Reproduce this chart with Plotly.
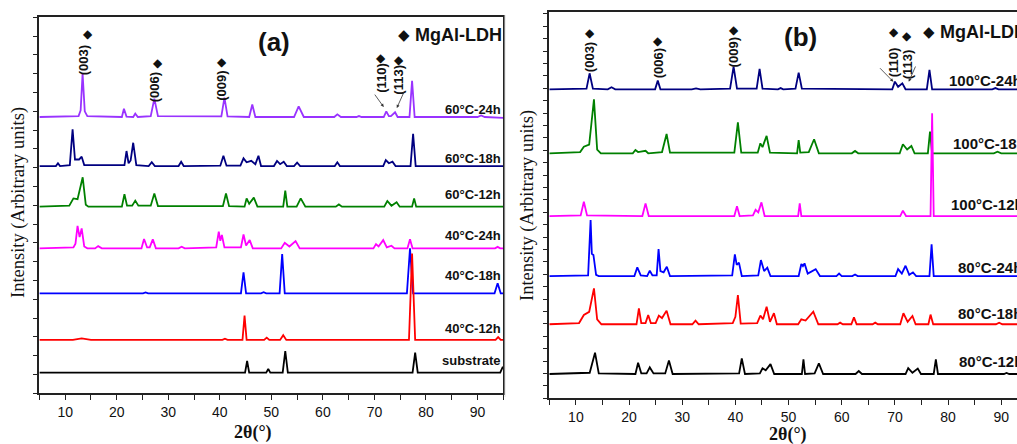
import plotly.graph_objects as go

W, H = 1017, 444

# ---------------- panel (a): 2theta / intensity points (above each baseline) ----------------
a_labels = ["60°C-24h", "60°C-18h", "60°C-12h", "40°C-24h", "40°C-18h", "40°C-12h", "substrate"]
a_colors = ["#9933FF", "#000080", "#008000", "#FF00FF", "#0000FF", "#FF0000", "#000000"]
a_offsets = [14.70, 12.09, 9.93, 7.71, 5.32, 2.84, 1.10]

a_60_24h = [(5, 0), (12.6, 0.05), (13.0, 0.35), (13.38, 2.31), (13.8, 0.3), (14.3, 0.05),
            (21.0, 0), (21.4, 0.44), (21.9, 0.02), (23.2, 0), (23.6, 0.18), (24.1, 0),
            (26.6, 0.05), (27.3, 0.98), (28.0, 0.05),
            (40.3, 0.03), (40.9, 1.03), (41.5, 0.03),
            (45.7, 0), (46.3, 0.66), (46.9, 0),
            (54.4, 0), (55.3, 0.57), (56.3, 0),
            (62.2, 0), (62.8, 0.14), (63.5, 0),
            (66.5, 0), (67.0, 0.05), (67.5, 0),
            (71.8, 0), (72.3, 0.3), (72.8, 0.05), (73.2, 0.05), (74.0, 0.25), (74.5, 0),
            (76.8, 0), (77.3, 1.93), (77.8, 0),
            (90.0, 0), (90.7, 0.08), (91.4, 0), (95, -0.05)]

a_60_18h = [(5, 0), (8.2, 0), (8.6, 0.15), (9.0, 0),
            (10.9, 0.05), (11.44, 1.95), (11.9, 0.35), (12.7, 0.35), (13.2, 0.5), (13.7, 0.05),
            (21.5, 0.05), (21.9, 0.8), (22.3, 0.15), (22.7, 0.3), (23.2, 1.24), (23.8, 0.05),
            (26.2, 0), (26.8, 0.2), (27.4, 0),
            (32.0, 0), (32.5, 0.23), (33.0, 0),
            (40.1, 0.02), (40.7, 0.55), (41.3, 0.02),
            (44.0, 0.02), (44.6, 0.41), (45.2, 0.2), (46.1, 0.28), (46.9, 0.1), (47.5, 0.55), (48.0, 0),
            (50.5, 0), (51.1, 0.27), (51.7, 0.1), (52.4, 0.23), (53.0, 0), (54.4, 0), (55.0, 0.18), (55.6, 0),
            (62.3, 0), (62.8, 0.2), (63.3, 0),
            (71.7, 0), (72.2, 0.32), (72.8, 0.15), (73.5, 0.23), (74.1, 0),
            (77.0, 0), (77.5, 1.71), (78.0, 0), (95, 0)]

a_60_12h = [(5, 0), (10.8, 0.05), (11.6, 0.44), (12.4, 0.4), (13.4, 1.56), (14.0, 0.1), (14.5, 0),
            (21.0, 0), (21.5, 0.66), (22.0, 0.05), (23.0, 0.05), (23.6, 0.32), (24.2, 0.05),
            (26.6, 0.05), (27.3, 0.7), (28.0, 0.03),
            (40.6, 0.03), (41.2, 0.7), (41.8, 0.03),
            (44.8, 0), (45.2, 0.44), (45.7, 0.15), (46.6, 0.48), (47.3, 0),
            (52.3, 0), (52.7, 0.85), (53.1, 0),
            (54.9, 0), (55.7, 0.44), (56.6, 0),
            (62.5, 0), (63.1, 0.12), (63.7, 0),
            (71.9, 0), (72.5, 0.3), (73.3, 0.05), (74.3, 0.23), (74.9, 0),
            (77.3, 0), (77.7, 0.44), (78.1, 0), (95, 0)]

a_40_24h = [(5, 0), (11.6, 0.05), (12.0, 0.25), (12.4, 1.2), (12.8, 0.6), (13.2, 1.06), (13.7, 0.1), (14.3, 0),
            (15.8, 0), (16.4, 0.12), (17.1, 0),
            (24.8, 0), (25.3, 0.5), (25.9, 0.05), (26.4, 0.05), (27.0, 0.48), (27.6, 0),
            (32.0, 0), (32.6, 0.09), (33.2, 0),
            (39.3, 0.05), (39.8, 0.89), (40.1, 0.4), (40.4, 0.71), (40.9, 0.05),
            (44.1, 0.05), (44.6, 0.74), (45.1, 0.15), (45.8, 0.44), (46.4, 0),
            (51.9, 0), (52.6, 0.3), (53.5, 0.1), (54.7, 0.39), (55.5, 0),
            (69.8, 0), (70.3, 0.23), (70.8, 0.1), (71.7, 0.44), (72.4, 0.05), (73.3, 0.14), (73.9, 0),
            (76.4, 0), (76.9, 0.48), (77.4, 0),
            (93.4, 0), (93.9, 0.08), (94.4, 0), (95, 0)]

a_40_18h = [(5, 0), (25.1, 0), (25.6, 0.05), (26.1, 0),
            (44.1, 0), (44.6, 1.12), (45.1, 0),
            (48.0, 0), (48.5, 0.06), (49.0, 0),
            (51.6, 0), (52.1, 2.09), (52.6, 0),
            (76.3, 0), (76.9, 2.39), (77.5, 0),
            (93.3, 0), (93.9, 0.53), (94.5, 0), (95, 0)]

a_40_12h = [(5, 0), (11.5, 0), (13.2, 0.08), (15.0, 0),
            (40.5, 0), (41.0, 0.06), (41.5, 0),
            (44.4, 0), (44.8, 1.29), (45.2, 0),
            (48.6, 0), (49.1, 0.12), (49.6, 0),
            (51.7, 0), (52.3, 0.25), (52.9, 0),
            (76.7, 0), (77.3, 4.6), (77.9, 0),
            (93.5, 0), (94.0, 0.15), (94.5, 0), (95, 0)]

a_substrate = [(5, 0), (44.9, 0), (45.3, 0.62), (45.7, 0),
               (49.0, 0), (49.4, 0.19), (49.8, 0),
               (52.2, 0), (52.7, 1.15), (53.2, 0),
               (77.4, 0), (77.9, 1.06), (78.4, 0),
               (94.4, 0), (94.9, 0.3), (95, 0.25)]

a_series = [a_60_24h, a_60_18h, a_60_12h, a_40_24h, a_40_18h, a_40_12h, a_substrate]

# ---------------- panel (b) ----------------
b_labels = ["100°C-24h", "100°C-18h", "100°C-12h", "80°C-24h", "80°C-18h", "80°C-12h"]
b_colors = ["#000080", "#008000", "#FF00FF", "#0000FF", "#FF0000", "#000000"]
b_offsets = [24.92, 19.76, 14.70, 9.86, 5.97, 1.96]

b_100_24h = [(5, 0), (12.0, 0.05), (12.58, 1.29), (13.2, 0.05),
             (16.0, 0), (16.7, 0.16), (17.4, 0),
             (24.9, 0), (25.4, 0.7), (25.9, 0),
             (31.8, 0), (32.6, 0.08), (33.4, 0),
             (39.0, 0.05), (39.66, 1.83), (40.3, 0.05),
             (44.0, 0.05), (44.55, 1.64), (45.1, 0.05),
             (48.0, 0), (48.5, 0.1), (49.0, 0),
             (51.3, 0.05), (51.9, 1.34), (52.5, 0.05),
             (69.5, 0), (70.0, 0.62), (70.6, 0.2), (71.4, 0.48), (72.0, 0),
             (76.0, 0), (76.5, 1.56), (77.0, 0),
             (88.3, 0), (88.9, 0.1), (89.5, 0), (95, 0)]

b_100_18h = [(5, 0), (10.8, 0.1), (11.5, 0.53), (12.5, 0.7), (13.4, 4.35), (14.0, 0.3), (14.7, 0),
             (20.7, 0), (21.2, 0.27), (21.7, 0.1), (23.1, 0.2), (23.6, 0),
             (26.2, 0.1), (27.06, 1.56), (27.7, 0.05),
             (39.8, 0.05), (40.47, 2.5), (41.1, 0.05),
             (44.2, 0.05), (44.7, 0.8), (45.1, 0.5), (45.87, 1.4), (46.5, 0.05),
             (51.6, 0), (51.9, 1.07), (52.2, 0.05), (53.8, 0.1), (54.8, 1.13), (55.7, 0),
             (61.9, 0), (62.5, 0.19), (63.1, 0),
             (70.9, 0), (71.5, 0.73), (72.3, 0.3), (73.1, 0.59), (73.7, 0),
             (76.2, 0), (76.6, 1.74), (77.0, 0),
             (88.6, 0), (89.3, 0.13), (90.0, 0), (95, 0)]

b_100_12h = [(5, 0), (10.9, 0.05), (11.5, 1.15), (12.1, 0.05),
             (22.5, 0), (23.1, 1.02), (23.7, 0),
             (39.8, 0), (40.3, 0.8), (40.8, 0),
             (43.3, 0.05), (43.8, 0.5), (44.3, 0.3), (44.9, 1.1), (45.5, 0),
             (51.8, 0), (52.1, 1.02), (52.4, 0),
             (71.0, 0), (71.5, 0.43), (72.1, 0),
             (76.7, 0), (77.0, 8.28), (77.3, 0), (95, 0)]

b_80_24h = [(5, 0), (12.3, 0.05), (12.77, 4.52), (13.0, 1.8), (13.3, 1.7), (13.8, 0.1), (14.3, 0),
            (21.0, 0), (21.55, 0.7), (22.2, 0.05), (23.4, 0), (23.9, 0.43), (24.4, 0.05),
            (25.2, 0.05), (25.55, 2.18), (25.9, 0.4), (26.5, 0.3), (27.1, 0.75), (27.7, 0),
            (39.4, 0.05), (39.9, 1.75), (40.25, 0.9), (40.67, 1.08), (41.2, 0),
            (44.3, 0.05), (44.8, 1.29), (45.4, 0.4), (46.0, 0.67), (46.6, 0),
            (51.9, 0), (52.4, 0.97), (52.7, 0.8), (53.0, 1.02), (53.6, 0.2), (55.1, 0.56), (55.9, 0),
            (59.0, 0), (59.5, 0.2), (60.0, 0), (62.0, 0), (62.5, 0.13), (63.0, 0),
            (70.1, 0), (70.6, 0.56), (71.3, 0.2), (72.0, 0.83), (72.7, 0.1), (73.4, 0.3), (74.0, 0),
            (76.5, 0), (76.9, 2.55), (77.3, 0), (95, 0)]

b_80_18h = [(5, 0), (10.6, 0.1), (11.5, 0.75), (12.5, 1.0), (13.4, 2.9), (14.0, 0.4), (14.8, 0),
            (21.4, 0), (21.85, 1.29), (22.3, 0.1), (23.1, 0.1), (23.6, 0.75), (24.1, 0.1),
            (25.0, 0.1), (25.6, 0.7), (26.2, 0.5), (27.06, 1.1), (27.8, 0),
            (31.9, 0), (32.5, 0.3), (33.1, 0),
            (39.5, 0.1), (40.0, 0.6), (40.47, 2.36), (41.0, 0.05),
            (44.1, 0.1), (44.7, 0.7), (45.2, 0.4), (45.87, 1.42), (46.5, 0.2), (47.25, 0.89), (47.8, 0),
            (51.8, 0), (52.4, 0.4), (53.2, 0.3), (54.65, 1.02), (55.6, 0),
            (59.2, 0), (59.7, 0.13), (60.2, 0),
            (61.8, 0), (62.3, 0.56), (62.8, 0),
            (65.8, 0), (66.3, 0.13), (66.8, 0),
            (71.0, 0), (71.6, 0.89), (72.4, 0.2), (73.3, 0.67), (73.9, 0),
            (76.3, 0), (76.7, 0.78), (77.2, 0),
            (89.0, 0), (89.6, 0.13), (90.2, 0), (95, 0)]

b_80_12h = [(5, 0), (12.6, 0.1), (13.6, 1.72), (14.3, 0.05),
            (21.2, 0), (21.7, 0.91), (22.3, 0.05), (23.3, 0.05), (23.9, 0.53), (24.6, 0.05),
            (26.8, 0.05), (27.5, 1.08), (28.2, 0),
            (40.7, 0.05), (41.2, 1.26), (41.8, 0),
            (44.6, 0.05), (45.1, 0.46), (45.7, 0.3), (46.6, 0.8), (47.3, 0),
            (52.5, 0), (52.8, 1.18), (53.1, 0),
            (54.9, 0.05), (55.7, 0.86), (56.5, 0),
            (62.6, 0), (63.2, 0.24), (63.8, 0),
            (72.0, 0), (72.5, 0.48), (73.3, 0.1), (74.3, 0.43), (74.9, 0),
            (77.3, 0), (77.7, 1.18), (78.1, 0),
            (90.5, 0), (91.0, 0.08), (91.5, 0), (95, 0)]

b_series = [b_100_24h, b_100_18h, b_100_12h, b_80_24h, b_80_18h, b_80_12h]

# Miller indices of the MgAl-LDH reflections: (label, 2theta, label y, diamond x, diamond y)
a_hkl = [("(003)", 13.5, 17.73, 14.4, 19.11), ("(006)", 27.26, 16.29, 28.0, 17.57),
         ("(009)", 40.4, 16.35, 40.5, 17.62), ("(110)", 71.2, 16.77, 71.2, 17.84),
         ("(113)", 74.67, 16.66, 74.67, 17.73)]
b_hkl = [("(003)", 12.58, 27.48, 12.58, 29.44), ("(006)", 25.5, 27.04, 25.5, 28.84),
         ("(009)", 39.72, 27.89, 39.72, 29.7), ("(110)", 69.8, 27.08, 69.8, 29.56),
         ("(113)", 72.33, 26.96, 72.33, 29.24)]

a_label_y = [15.12, 12.5, 10.6, 8.42, 6.29, 3.46, 1.72]
b_label_pos = [(79.85, 25.67), (80.47, 20.56), (80.15, 15.67), (81.4, 10.56), (81.55, 6.8), (81.7, 2.95)]

SANS = "Liberation Sans, Arial, sans-serif"
SERIF = "Liberation Serif, Times New Roman, serif"

fig = go.Figure()

for pts, off, col, name in zip(a_series, a_offsets, a_colors, a_labels):
    fig.add_trace(go.Scatter(x=[p[0] for p in pts], y=[p[1] + off for p in pts],
                             mode="lines", line=dict(color=col, width=1.8),
                             name=name, xaxis="x", yaxis="y", showlegend=False))
for pts, off, col, name in zip(b_series, b_offsets, b_colors, b_labels):
    fig.add_trace(go.Scatter(x=[p[0] for p in pts], y=[p[1] + off for p in pts],
                             mode="lines", line=dict(color=col, width=1.8),
                             name=name, xaxis="x2", yaxis="y2", showlegend=False))

ann = []
# curve labels
for name, y in zip(a_labels, a_label_y):
    ann.append(dict(x=94.9, y=y, xref="x", yref="y", text="<b>%s</b>" % name, showarrow=False,
                    xanchor="right", yanchor="middle", font=dict(family=SANS, size=13, color="#111")))
for name, (x, y) in zip(b_labels, b_label_pos):
    ann.append(dict(x=x, y=y, xref="x2", yref="y2", text="<b>%s</b>" % name, showarrow=False,
                    xanchor="left", yanchor="middle", font=dict(family=SANS, size=15, color="#111")))

# reflection indices with diamonds
for (lab, x, y, dx, dy), xr, yr in [(h, "x", "y") for h in a_hkl] + [(h, "x2", "y2") for h in b_hkl]:
    ann.append(dict(x=x, y=y, xref=xr, yref=yr, text="<b>%s</b>" % lab, textangle=-90, showarrow=False,
                    xanchor="center", yanchor="middle", font=dict(family=SANS, size=13, color="#111")))
    ann.append(dict(x=dx, y=dy, xref=xr, yref=yr, text="◆", showarrow=False,
                    xanchor="center", yanchor="middle", font=dict(family="DejaVu Sans", size=12, color="#111")))

# arrows pointing to (110) and (113)
for (tx, ty, hx, hy, xr, yr) in [(69.86, 15.97, 71.8, 15.23, "x", "y"), (75.9, 16.13, 74.34, 15.18, "x", "y"),
                                 (66.93, 26.74, 69.7, 25.53, "x2", "y2"), (74.0, 26.88, 72.6, 25.53, "x2", "y2")]:
    ann.append(dict(x=hx, y=hy, ax=tx, ay=ty, xref=xr, yref=yr, axref=xr, ayref=yr, text="",
                    showarrow=True, arrowhead=2, arrowsize=0.8, arrowwidth=0.8, arrowcolor="#333"))

# panel tags and legend marker
ann.append(dict(x=50.6, y=18.7, xref="x", yref="y", text="<b>(a)</b>", showarrow=False,
                xanchor="center", yanchor="middle", font=dict(family=SANS, size=26, color="#111")))
ann.append(dict(x=52.26, y=29.16, xref="x2", yref="y2", text="<b>(b)</b>", showarrow=False,
                xanchor="center", yanchor="middle", font=dict(family=SANS, size=26, color="#111")))
ann.append(dict(x=75.7, y=19.06, xref="x", yref="y", text="◆", showarrow=False,
                xanchor="center", yanchor="middle", font=dict(family="DejaVu Sans", size=15, color="#111")))
ann.append(dict(x=77.45, y=19.06, xref="x", yref="y", text="<b>MgAl-LDH</b>", showarrow=False,
                xanchor="left", yanchor="middle", font=dict(family=SANS, size=18, color="#111")))
ann.append(dict(x=76.34, y=29.56, xref="x2", yref="y2", text="◆", showarrow=False,
                xanchor="center", yanchor="middle", font=dict(family="DejaVu Sans", size=15, color="#111")))
ann.append(dict(x=78.03, y=29.56, xref="x2", yref="y2", text="<b>MgAl-LDH</b>", showarrow=False,
                xanchor="left", yanchor="middle", font=dict(family=SANS, size=18, color="#111")))

# axis titles
for xp, yp in [(18, 203), (528, 206)]:
    ann.append(dict(x=xp / W, y=1 - yp / H, xref="paper", yref="paper", text="Intensity (Arbitrary units)",
                    textangle=-90, showarrow=False, xanchor="center", yanchor="middle",
                    font=dict(family=SERIF, size=18.5, color="#111")))
for xp, yp in [(252.5, 432), (788, 434)]:
    ann.append(dict(x=xp / W, y=1 - yp / H, xref="paper", yref="paper", text="<b>2θ(°)</b>",
                    showarrow=False, xanchor="center", yanchor="middle",
                    font=dict(family=SERIF, size=18, color="#111")))

xcommon = dict(range=[5, 95], showline=True, linecolor="#222", linewidth=1.5, ticks="outside",
               tickvals=[10, 20, 30, 40, 50, 60, 70, 80, 90], ticklen=5, tickwidth=1.2, tickcolor="#222",
               minor=dict(tickvals=[5, 15, 25, 35, 45, 55, 65, 75, 85, 95], ticklen=5, tickwidth=1.2,
                          ticks="outside", tickcolor="#222"),
               showgrid=False, zeroline=False, tickfont=dict(family=SANS, size=14, color="#111"))
ycommon = dict(showline=True, linecolor="#222", linewidth=1.5, ticks="outside", dtick=1, tick0=0,
               ticklen=5, tickwidth=1.2, tickcolor="#222", showticklabels=False,
               showgrid=False, zeroline=False)

fig.update_layout(
    width=W, height=H, margin=dict(l=0, r=0, t=0, b=0),
    paper_bgcolor="white", plot_bgcolor="white",
    xaxis=dict(xcommon, domain=[39.4 / W, 503.3 / W], anchor="y", mirror=True),
    yaxis=dict(ycommon, domain=[(H - 393.3) / H, (H - 17) / H], range=[0, 20.02], anchor="x", mirror=True),
    xaxis2=dict(xcommon, domain=[549.3 / W, 1.0], range=[5, 5 + (W - 549.3) / 5.317], anchor="y2", mirror=True),
    yaxis2=dict(ycommon, domain=[(H - 398.3) / H, (H - 12.3) / H], range=[0, 31.13], anchor="x2"),
    annotations=ann,
    shapes=[dict(type="line", xref="paper", yref="paper", x0=505 / W, x1=505 / W,
                 y0=1 - 397 / H, y1=1 - 15 / H, line=dict(color="#dddddd", width=1))],
)

fig.write_html("out.html")
